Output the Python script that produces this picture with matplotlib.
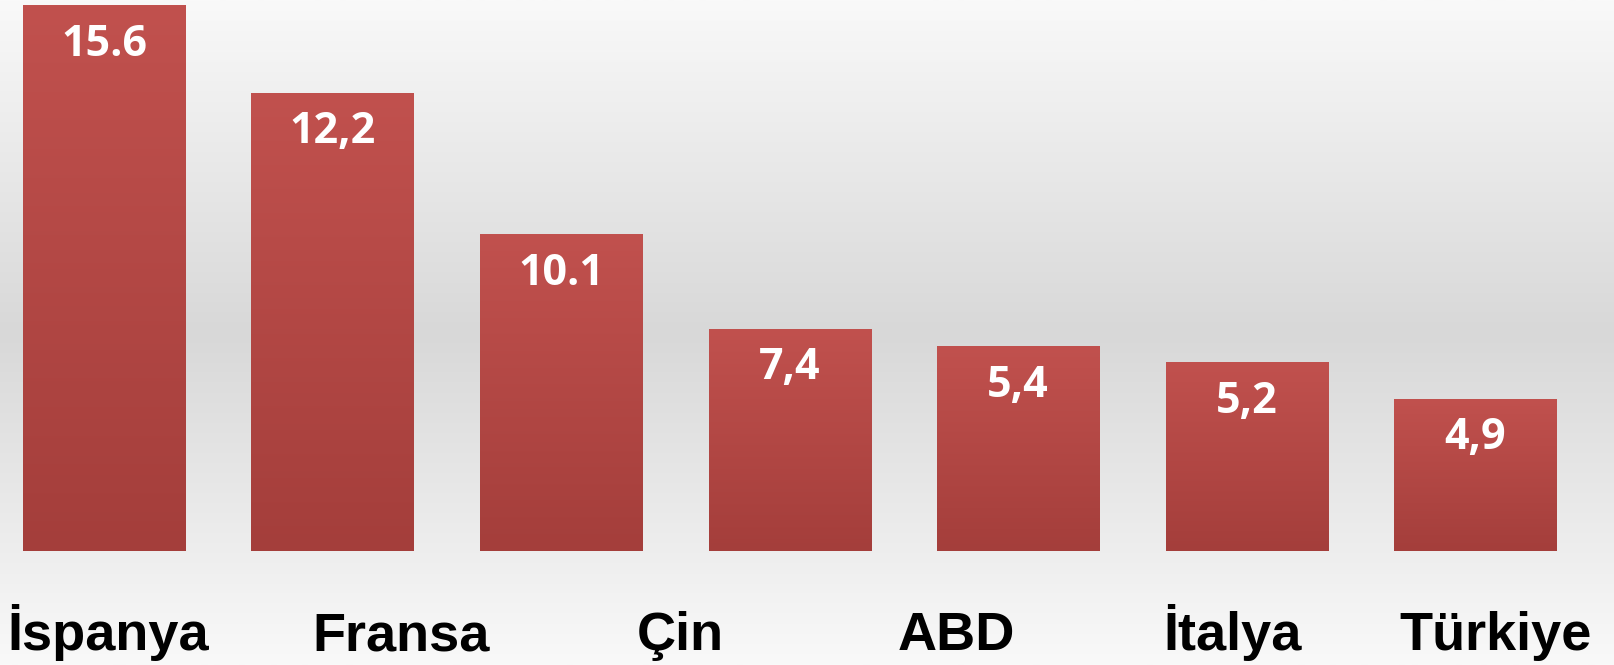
import numpy as np
import matplotlib.pyplot as plt
from matplotlib.colors import LinearSegmentedColormap

# bar heights as they appear in the picture, and the labels written on them
heights = [15.6, 13.1, 9.05, 6.35, 5.85, 5.4, 4.35]
value_labels = ["15.6", "12,2", "10.1", "7,4", "5,4", "5,2", "4,9"]
countries = ["İspanya", "Fransa", "Çin", "ABD", "İtalya", "Türkiye"]

# where the country names sit on the bar scale (they do not line up with the bars)
name_pos = [0.02, 1.30, 2.52, 3.73, 4.94, 6.09]


def main():
    fig = plt.figure(figsize=(16.14, 6.65), dpi=100)

    # background gradient
    bg = fig.add_axes([0, 0, 1, 1])
    bg_cmap = LinearSegmentedColormap.from_list(
        "bg", [(0, "#f9f9f9"), (0.5, "#d8d8d8"), (1, "#f9f9f9")])
    bg.imshow(np.linspace(0, 1, 256).reshape(-1, 1), cmap=bg_cmap,
              aspect="auto", extent=[0, 1, 0, 1])
    bg.set_axis_off()

    ax = fig.add_axes([0, 0, 1, 1])
    ax.patch.set_alpha(0)
    ax.set_xlim(-0.455, 6.608)
    ax.set_ylim(-3.257, 15.743)
    ax.set_axis_off()

    x = np.arange(len(heights))
    bars = ax.bar(x, heights, width=0.709, color="#b84a47", linewidth=0, zorder=2)

    bar_cmap = LinearSegmentedColormap.from_list("bar", ["#a43e3b", "#c1514e"])
    grad = np.linspace(1, 0, 256).reshape(-1, 1)
    for b in bars:
        x0, w, h = b.get_x(), b.get_width(), b.get_height()
        im = ax.imshow(grad, cmap=bar_cmap, aspect="auto",
                       extent=[x0, x0 + w, 0, h], zorder=3)
        im.set_clip_path(b)
    ax.set_xlim(-0.455, 6.608)
    ax.set_ylim(-3.257, 15.743)

    for xi, h, lab in zip(x, heights, value_labels):
        ax.text(xi, h - 0.5, lab, ha="center", va="top", color="white",
                fontsize=31, fontweight="bold", family="Open Sans", zorder=4)

    for p, name in zip(name_pos, countries):
        ax.text(p, -2.83, name, ha="center", va="baseline", color="black",
                fontsize=39, fontweight="bold", family="Liberation Sans", zorder=4)

    fig.savefig("out.png", dpi=100)


if __name__ == '__main__':
    main()
